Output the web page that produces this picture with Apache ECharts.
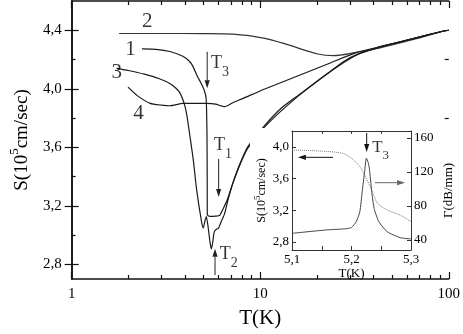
<!DOCTYPE html>
<html><head><meta charset="utf-8">
<script src="https://cdn.jsdelivr.net/npm/echarts@6/dist/echarts.min.js"></script>
<style>html,body{margin:0;padding:0;background:#fff}#c{width:463px;height:334px}</style>
</head><body><div id="c"></div>
<script>
// ---- tick labels ----
const xTickLabels = [1, 10, 100];
const xMinorTicks = [2,3,4,5,6,7,8,9,20,30,40,50,60,70,80,90];
const yTickLabels = [2.8, 3.2, 3.6, 4.0, 4.4];
const yMinorTicks = [3.0, 3.4, 3.8, 4.2];
const insetXTicks = [5.1, 5.2, 5.3];
const insetXMinor = [5.15, 5.25];
const insetSTicks = [2.8, 3.2, 3.6, 4.0];
const insetGTicks = [40, 80, 120, 160];

// ---- main curves: T (K) and S (10^5 cm/sec) ----
const curve1T = [2.36,2.8,3.32,3.89,4.2,4.39,4.66,4.85,5.05,5.17,5.22,5.235,5.24,5.4,5.8,6.1,6.47,6.73,7.15,7.75,8.56,10.66,13,15.9,19.5,23.7,28,32.7,43,64,94,100];
const curve1S = [4.273,4.27,4.255,4.222,4.19,4.155,4.08,4.04,3.99,3.93,3.7,3.4,3.14,3.128,3.13,3.135,3.2,3.25,3.355,3.478,3.6,3.755,3.87,3.955,4.04,4.122,4.19,4.235,4.285,4.341,4.395,4.4];

const curve2T = [1.785,3,5,7.15,10.6,14.1,20.2,24.6,31.2,43.2,64.2,94.2,100];
const curve2S = [4.378,4.378,4.377,4.373,4.345,4.30,4.238,4.227,4.245,4.28,4.335,4.395,4.4];

const curve3T = [1.73,2.0,2.43,2.9,3.35,3.6,3.77,3.95,4.08,4.25,4.42,4.6,4.89,4.99,5.1,5.18,5.3,5.42,5.51,5.6,5.7,5.85,6.0,6.2,6.47,6.73,7.15,7.75,8.56,10.66,15.9,23.7,32.7,43,64,94,100];
const curve3S = [4.14,4.125,4.10,4.07,4.033,4.0,3.967,3.9,3.822,3.667,3.511,3.311,3.089,3.05,3.1,3.127,3.05,2.95,2.905,2.95,3.02,3.04,3.045,3.09,3.145,3.235,3.35,3.47,3.59,3.745,3.95,4.12,4.233,4.285,4.341,4.395,4.4];

const curve4T = [1.99,2.22,2.61,3.0,3.32,3.89,4.5,5.2,5.8,6.47,7.15,8.06,10.66,15.9,23.7,32,43,64,94,100];
const curve4S = [4.011,3.955,3.9,3.888,3.884,3.9,3.9,3.9,3.895,3.878,3.905,3.933,4.0,4.089,4.178,4.245,4.288,4.341,4.395,4.4];

// ---- inset curves ----
const insetST = [5.1,5.145,5.184,5.2,5.214,5.222,5.23,5.236,5.244,5.26,5.282,5.3];
const insetSS = [3.96,3.948,3.92,3.856,3.75,3.645,3.52,3.414,3.288,3.204,3.14,3.056];
const insetGT = [5.1,5.156,5.19,5.2,5.208,5.214,5.218,5.222,5.225,5.228,5.23,5.234,5.238,5.246,5.26,5.282,5.3];
const insetGG = [47.6,51.5,53,54.5,61.3,73,96.6,120,136,131,124,96.6,77,61.3,49.5,42.5,41];

// ---- annotations (data coordinates) ----
const mainArrows = [[5.234,4.253,5.234,4.003],[6.02,3.52,6.02,3.26],[5.76,2.727,5.76,2.907]];
const insetSArrows = [[5.2255,4.175,5.2255,3.935],[5.169,3.868,5.110,3.868]];
const insetGArrows = [[5.2395,107.2,5.29,107.2]];
const curveLabels = [[2.52,4.46,'2'],[2.05,4.267,'1'],[1.736,4.113,'3'],[2.26,3.833,'4']];
const tLabels = [[6.12,4.15,'3'],[6.34,3.593,'1'],[6.81,2.847,'2']];
const insetTLabels = [[5.249,3.954,'3']];

const zip = (a,b) => a.map((v,i)=>[v,b[i]]);
const FONT = 'Liberation Serif';
const comma = (d) => (v) => Number(v).toFixed(d).replace('.', ',');

function arrowRender(color) {
  return function(params, api) {
    const a = api.coord([api.value(0), api.value(1)]);
    const b = api.coord([api.value(2), api.value(3)]);
    const dx = b[0]-a[0], dy = b[1]-a[1];
    const L = Math.hypot(dx, dy) || 1;
    const ux = dx/L, uy = dy/L;
    const hl = 8, hw = 2.6;
    const base = [b[0]-ux*hl, b[1]-uy*hl];
    return {type:'group', children:[
      {type:'line', shape:{x1:a[0],y1:a[1],x2:base[0],y2:base[1]}, style:{stroke:color,lineWidth:1}},
      {type:'polygon', shape:{points:[b,[base[0]-uy*hw,base[1]+ux*hw],[base[0]+uy*hw,base[1]-ux*hw]]}, style:{fill:color}}
    ]};
  };
}

const tRich = {
  t:{fontFamily:FONT,fontSize:18,color:'#000',verticalAlign:'top',lineHeight:18},
  s:{fontFamily:FONT,fontSize:14,color:'#000',verticalAlign:'bottom',lineHeight:25}
};

const chart = echarts.init(document.getElementById('c'), null, {renderer:'canvas'});
const line = '#111';
const mainLine = {color:'#1a1a1a', width:1.2};
const insetAxisLine = {show:true, lineStyle:{color:'#333', width:1}};

chart.setOption({
  animation:false,
  backgroundColor:'#fff',
  grid:[
    {left:66, top:1, width:384, height:283},
    {left:292, top:131, width:119, height:119}
  ],
  xAxis:[
    {gridIndex:0, type:'log', logBase:10, min:1, max:100, position:'bottom',
     axisLine:{show:true, lineStyle:{color:line,width:1.5}},
     axisTick:{show:true, inside:true, length:7, lineStyle:{color:line,width:1.2}},
     axisLabel:{show:true, fontFamily:FONT, fontSize:15, color:'#000', margin:8},
     splitLine:{show:false},
     name:'T(K)', nameLocation:'middle', nameGap:29,
     nameTextStyle:{fontFamily:FONT, fontSize:21, color:'#000'}},
    {gridIndex:0, type:'value', min:0, max:2, position:'bottom',
     axisLine:{show:false}, axisLabel:{show:false}, splitLine:{show:false},
     axisTick:{show:true, inside:true, length:4, customValues:xMinorTicks.map(Math.log10), lineStyle:{color:line,width:1.2}}},
    {gridIndex:0, type:'value', min:0, max:2, position:'top',
     axisLine:{show:true, lineStyle:{color:line,width:1.5}}, axisLabel:{show:false}, splitLine:{show:false},
     axisTick:{show:true, inside:true, length:7, customValues:xTickLabels.map(Math.log10), lineStyle:{color:line,width:1.2}}},
    {gridIndex:0, type:'value', min:0, max:2, position:'top',
     axisLine:{show:false}, axisLabel:{show:false}, splitLine:{show:false},
     axisTick:{show:true, inside:true, length:4, customValues:xMinorTicks.map(Math.log10), lineStyle:{color:line,width:1.2}}},
    {gridIndex:1, type:'value', min:5.1, max:5.3, position:'bottom', z:12,
     axisLine:insetAxisLine, splitLine:{show:false},
     axisTick:{show:true, inside:true, length:4, customValues:insetXTicks.concat(insetXMinor), lineStyle:{color:'#333'}},
     axisLabel:{show:true, customValues:insetXTicks, formatter:comma(1), fontFamily:FONT, fontSize:13, color:'#000', margin:3},
     name:'T(K)', nameLocation:'middle', nameGap:15,
     nameTextStyle:{fontFamily:FONT, fontSize:13, color:'#000'}},
    {gridIndex:1, type:'value', min:5.1, max:5.3, position:'top', z:12,
     axisLine:insetAxisLine, splitLine:{show:false}, axisLabel:{show:false},
     axisTick:{show:true, inside:true, length:3, customValues:insetXTicks.concat(insetXMinor), lineStyle:{color:'#333'}}}
  ],
  yAxis:[
    {gridIndex:0, type:'value', min:2.7, max:4.6, position:'left',
     axisLine:{show:true, lineStyle:{color:line,width:1.5}},
     axisTick:{show:true, inside:true, length:7, customValues:yTickLabels, lineStyle:{color:line,width:1.2}},
     axisLabel:{show:true, customValues:yTickLabels, formatter:comma(1), fontFamily:FONT, fontSize:15, color:'#000', margin:10},
     splitLine:{show:false},
     name:'{n|S(10}{p|5}{n|cm/sec)}', nameLocation:'middle', nameGap:37, nameRotate:90,
     nameTextStyle:{rich:{
       n:{fontFamily:FONT,fontSize:19,color:'#000',verticalAlign:'bottom',lineHeight:24},
       p:{fontFamily:FONT,fontSize:13,color:'#000',verticalAlign:'top',lineHeight:24}}}},
    {gridIndex:0, type:'value', min:2.7, max:4.6, position:'left',
     axisLine:{show:false}, axisLabel:{show:false}, splitLine:{show:false},
     axisTick:{show:true, inside:true, length:4, customValues:yMinorTicks, lineStyle:{color:line,width:1.2}}},
    {gridIndex:0, type:'value', min:2.7, max:4.6, position:'right',
     axisLine:{show:true, lineStyle:{color:line,width:1.5}}, axisLabel:{show:false}, splitLine:{show:false},
     axisTick:{show:true, inside:true, length:7, customValues:yTickLabels, lineStyle:{color:line,width:1.2}}},
    {gridIndex:0, type:'value', min:2.7, max:4.6, position:'right',
     axisLine:{show:false}, axisLabel:{show:false}, splitLine:{show:false},
     axisTick:{show:true, inside:true, length:4, customValues:yMinorTicks, lineStyle:{color:line,width:1.2}}},
    {gridIndex:1, type:'value', min:2.7, max:4.2, position:'left', z:12,
     axisLine:insetAxisLine, splitLine:{show:false},
     axisTick:{show:true, inside:true, length:4, customValues:insetSTicks, lineStyle:{color:'#333'}},
     axisLabel:{show:true, customValues:insetSTicks, formatter:comma(1), fontFamily:FONT, fontSize:13, color:'#000', margin:3},
     name:'{n|S(10}{p|5}{n|cm/sec)}', nameLocation:'middle', nameGap:24, nameRotate:90,
     nameTextStyle:{rich:{
       n:{fontFamily:FONT,fontSize:12,color:'#000',verticalAlign:'bottom',lineHeight:15},
       p:{fontFamily:FONT,fontSize:9,color:'#000',verticalAlign:'top',lineHeight:15}}}},
    {gridIndex:1, type:'value', min:28, max:168, position:'right', z:12,
     axisLine:insetAxisLine, splitLine:{show:false},
     axisTick:{show:true, inside:true, length:4, customValues:insetGTicks, lineStyle:{color:'#333'}},
     axisLabel:{show:true, customValues:insetGTicks, fontFamily:FONT, fontSize:13, color:'#000', margin:3},
     name:'Γ(dB/mm)', nameLocation:'middle', nameGap:31, nameRotate:90,
     nameTextStyle:{fontFamily:FONT, fontSize:13, color:'#000'}}
  ],
  graphic:{elements:[
    {type:'rect', z:8, shape:{x:250, y:128, width:196, height:140}, style:{fill:'#fff'}},
    {type:'rect', z:8, shape:{x:446, y:176, width:8, height:90}, style:{fill:'#fff'}}
  ]},
  series:[
    {name:'1', type:'line', xAxisIndex:0, yAxisIndex:0, data:zip(curve1T,curve1S), showSymbol:false, smooth:0.2, lineStyle:mainLine, z:2},
    {name:'2', type:'line', xAxisIndex:0, yAxisIndex:0, data:zip(curve2T,curve2S), showSymbol:false, smooth:0.3, lineStyle:{color:'#333',width:1.2}, z:2},
    {name:'3', type:'line', xAxisIndex:0, yAxisIndex:0, data:zip(curve3T,curve3S), showSymbol:false, smooth:0.2, lineStyle:mainLine, z:2},
    {name:'4', type:'line', xAxisIndex:0, yAxisIndex:0, data:zip(curve4T,curve4S), showSymbol:false, smooth:0.2, lineStyle:mainLine, z:2},
    {name:'S inset', type:'line', xAxisIndex:4, yAxisIndex:4, data:zip(insetST,insetSS), showSymbol:false, smooth:0.3, lineStyle:{color:'#777',width:1,type:'dotted'}, z:12},
    {name:'G inset', type:'line', xAxisIndex:4, yAxisIndex:5, data:zip(insetGT,insetGG), showSymbol:false, smooth:0.2, lineStyle:{color:'#444',width:1}, z:12},
    {type:'custom', xAxisIndex:0, yAxisIndex:0, data:mainArrows, encode:{x:[0,2],y:[1,3]}, renderItem:arrowRender('#222'), clip:false, z:15, silent:true},
    {type:'custom', xAxisIndex:4, yAxisIndex:4, data:insetSArrows, encode:{x:[0,2],y:[1,3]}, renderItem:arrowRender('#111'), clip:false, z:15, silent:true},
    {type:'custom', xAxisIndex:4, yAxisIndex:5, data:insetGArrows, encode:{x:[0,2],y:[1,3]}, renderItem:arrowRender('#666'), clip:false, z:15, silent:true},
    {type:'scatter', xAxisIndex:0, yAxisIndex:0, data:curveLabels, symbolSize:0, z:15, silent:true,
     label:{show:true, position:'inside', formatter:p=>p.data[2], fontFamily:FONT, fontSize:21, color:'#000'}},
    {type:'scatter', xAxisIndex:0, yAxisIndex:0, data:tLabels, symbolSize:0, z:15, silent:true,
     label:{show:true, position:'inside', formatter:p=>'{t|T}{s|'+p.data[2]+'}', rich:tRich}},
    {type:'scatter', xAxisIndex:4, yAxisIndex:4, data:insetTLabels, symbolSize:0, z:15, silent:true,
     label:{show:true, position:'inside', formatter:p=>'{t|T}{s|'+p.data[2]+'}', rich:{
       t:{fontFamily:FONT,fontSize:17,color:'#000',verticalAlign:'top',lineHeight:17},
       s:{fontFamily:FONT,fontSize:13,color:'#000',verticalAlign:'bottom',lineHeight:23}}}}
  ]
});
</script></body></html>
